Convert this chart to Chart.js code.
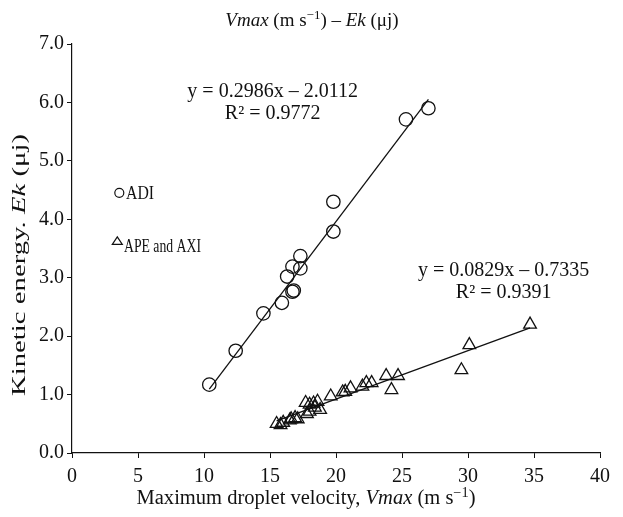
<!DOCTYPE html>
<html>
<head>
<meta charset="utf-8">
<script src="https://cdn.jsdelivr.net/npm/chart.js@4.4.0/dist/chart.umd.min.js"></script>
<style>
  html, body { margin: 0; padding: 0; background: #fff; }
  #wrap { width: 623px; height: 517px; }
</style>
</head>
<body>
<div id="wrap"><canvas id="chart" width="623" height="517"></canvas></div>
<script>
// ============================================
// Data
// ============================================

const ADI_X = [10.4, 12.4, 14.5, 15.9, 16.3, 16.7, 16.7, 16.8, 17.3, 17.3, 19.8, 19.8, 25.3, 27.0];
const ADI_Y = [1.17, 1.75, 2.39, 2.57, 3.02, 3.19, 2.76, 2.78, 3.16, 3.37, 3.79, 4.30, 5.71, 5.90];

const APE_X = [15.5, 15.8, 16.0, 16.5, 16.6, 16.9, 17.1, 17.7, 17.8, 18.0, 18.0, 18.3, 18.4, 18.6, 18.8,
               19.6, 20.5, 20.7, 21.1, 22.0, 22.3, 22.7, 23.8, 24.2, 24.7, 29.5, 30.1, 34.7];
const APE_Y = [0.50, 0.48, 0.52, 0.56, 0.58, 0.60, 0.58, 0.86, 0.67, 0.83, 0.71, 0.85, 0.78, 0.88, 0.74,
               0.97, 1.04, 1.05, 1.11, 1.14, 1.20, 1.20, 1.32, 1.08, 1.32, 1.42, 1.85, 2.20];

// Fitted lines as printed on the chart: slope, intercept, x range
const ADI_FIT = [0.2986, -2.0112];
const ADI_FIT_RANGE = [10.4, 27.0];
const APE_FIT = [0.0829, -0.7335];
const APE_FIT_RANGE = [15.5, 34.7];

const X_TICKS = [0, 5, 10, 15, 20, 25, 30, 35, 40];
const Y_TICKS = [0, 1, 2, 3, 4, 5, 6, 7];

const ADI_LABELS = ['y = 0.2986x \u2013 2.0112', 'R\u00B2 = 0.9772'];
const APE_LABELS = ['y = 0.0829x \u2013 0.7335', 'R\u00B2 = 0.9391'];

// ============================================
// Helpers
// ============================================

const SERIF = '"Liberation Serif", "DejaVu Serif", serif';
const INK = '#111';

function toPoints(xs, ys) {
    return xs.map((x, i) => ({ x: x, y: ys[i] }));
}

function fitLine(coef, range) {
    return range.map(x => ({ x: x, y: coef[0] * x + coef[1] }));
}

function fontFor(part, size) {
    const s = part.sup ? Math.round(size * 0.68) : size;
    return (part.it ? 'italic ' : '') + s + 'px ' + SERIF;
}

// draw a line of text made of plain / italic / superscript pieces,
// optionally squeezed or stretched to a given width
function drawRich(ctx, parts, x, y, size, align, fitWidth) {
    const widths = parts.map(p => {
        ctx.font = fontFor(p, size);
        return ctx.measureText(p.t).width;
    });
    const total = widths.reduce((a, b) => a + b, 0);
    const sx = fitWidth ? fitWidth / total : 1;
    ctx.save();
    ctx.translate(x, y);
    ctx.scale(sx, 1);
    let cx = align === 'center' ? -total / 2 : 0;
    ctx.textAlign = 'left';
    ctx.textBaseline = 'alphabetic';
    parts.forEach((p, i) => {
        ctx.font = fontFor(p, size);
        ctx.fillText(p.t, cx, p.sup ? -size * 0.36 : 0);
        cx += widths[i];
    });
    ctx.restore();
}

// ============================================
// Text plugin: titles, equations, legend
// ============================================

const textPlugin = {
    id: 'textPlugin',
    afterDraw(chart) {
        const ctx = chart.ctx;
        const xs = chart.scales.x;
        const ys = chart.scales.y;
        ctx.save();
        ctx.fillStyle = INK;
        ctx.strokeStyle = INK;

        // top title
        drawRich(ctx, [
            { t: 'Vmax', it: true }, { t: ' (m s' }, { t: '\u22121', sup: true },
            { t: ') \u2013 ' }, { t: 'Ek', it: true }, { t: ' (\u03BCj)' }
        ], 312, 25.5, 19, 'center');

        // x axis title
        drawRich(ctx, [
            { t: 'Maximum droplet velocity, ' }, { t: 'Vmax', it: true },
            { t: ' (m s' }, { t: '\u22121', sup: true }, { t: ')' }
        ], 306, 504, 20, 'center', 339);

        // y axis title (rotated, stretched like the original)
        ctx.save();
        ctx.translate(25, 265);
        ctx.rotate(-Math.PI / 2);
        drawRich(ctx, [
            { t: 'Kinetic energy. ' }, { t: 'Ek', it: true }, { t: ' (\u03BCj)' }
        ], 0, 0, 19, 'center', 262);
        ctx.restore();

        // equations
        ctx.font = '20px ' + SERIF;
        ctx.textAlign = 'center';
        ctx.fillText(ADI_LABELS[0], xs.getPixelForValue(15.2), ys.getPixelForValue(6.10));
        ctx.fillText(ADI_LABELS[1], xs.getPixelForValue(15.2), ys.getPixelForValue(5.71));
        ctx.fillText(APE_LABELS[0], xs.getPixelForValue(32.7), ys.getPixelForValue(3.03));
        ctx.fillText(APE_LABELS[1], xs.getPixelForValue(32.7), ys.getPixelForValue(2.66));

        // legend
        ctx.lineWidth = 1.2;
        ctx.beginPath();
        ctx.arc(119.3, 192.8, 4.5, 0, Math.PI * 2);
        ctx.stroke();
        ctx.beginPath();
        ctx.moveTo(117.3, 236.8);
        ctx.lineTo(122.3, 244.3);
        ctx.lineTo(112.3, 244.3);
        ctx.closePath();
        ctx.stroke();
        drawRich(ctx, [{ t: 'ADI' }], 126, 199.3, 19, 'left', 28);
        drawRich(ctx, [{ t: 'APE and AXI' }], 124, 251.7, 19, 'left', 77);

        ctx.restore();
    }
};

// ============================================
// Chart
// ============================================

const axisCommon = {
    type: 'linear',
    grid: { display: true, drawOnChartArea: false, drawTicks: true, tickLength: 5, color: INK, lineWidth: 1 },
    border: { display: true, color: INK, width: 1.2 },
    ticks: { color: INK, font: { family: SERIF, size: 20 }, padding: 3 }
};

new Chart(document.getElementById('chart'), {
    type: 'scatter',
    data: {
        datasets: [
            {
                label: 'ADI',
                data: toPoints(ADI_X, ADI_Y),
                pointStyle: 'circle',
                pointRadius: 6.7,
                pointBorderWidth: 1.3,
                borderColor: INK,
                backgroundColor: 'rgba(0,0,0,0)'
            },
            {
                label: 'APE and AXI',
                data: toPoints(APE_X, APE_Y),
                pointStyle: 'triangle',
                pointRadius: 7.3,
                pointBorderWidth: 1.3,
                borderColor: INK,
                backgroundColor: 'rgba(0,0,0,0)'
            },
            {
                label: 'ADI fit',
                data: fitLine(ADI_FIT, ADI_FIT_RANGE),
                showLine: true,
                pointRadius: 0,
                borderWidth: 1.3,
                borderColor: INK
            },
            {
                label: 'APE fit',
                data: fitLine(APE_FIT, APE_FIT_RANGE),
                showLine: true,
                pointRadius: 0,
                borderWidth: 1.3,
                borderColor: INK
            }
        ]
    },
    options: {
        responsive: false,
        animation: false,
        events: [],
        layout: { padding: { left: 0, top: 44, right: 23, bottom: 0 } },
        plugins: {
            legend: { display: false },
            tooltip: { enabled: false },
            title: { display: false }
        },
        scales: {
            x: {
                ...axisCommon,
                min: 0, max: 40,
                ticks: { ...axisCommon.ticks, padding: 7 },
                afterBuildTicks: axis => { axis.ticks = X_TICKS.map(v => ({ value: v })); },
                afterFit: axis => { axis.height = 64; }
            },
            y: {
                ...axisCommon,
                min: 0, max: 7,
                ticks: { ...axisCommon.ticks, callback: v => v.toFixed(1) },
                afterBuildTicks: axis => { axis.ticks = Y_TICKS.map(v => ({ value: v })); },
                afterFit: axis => { axis.width = 72; }
            }
        }
    },
    plugins: [textPlugin]
});
</script>
</body>
</html>
